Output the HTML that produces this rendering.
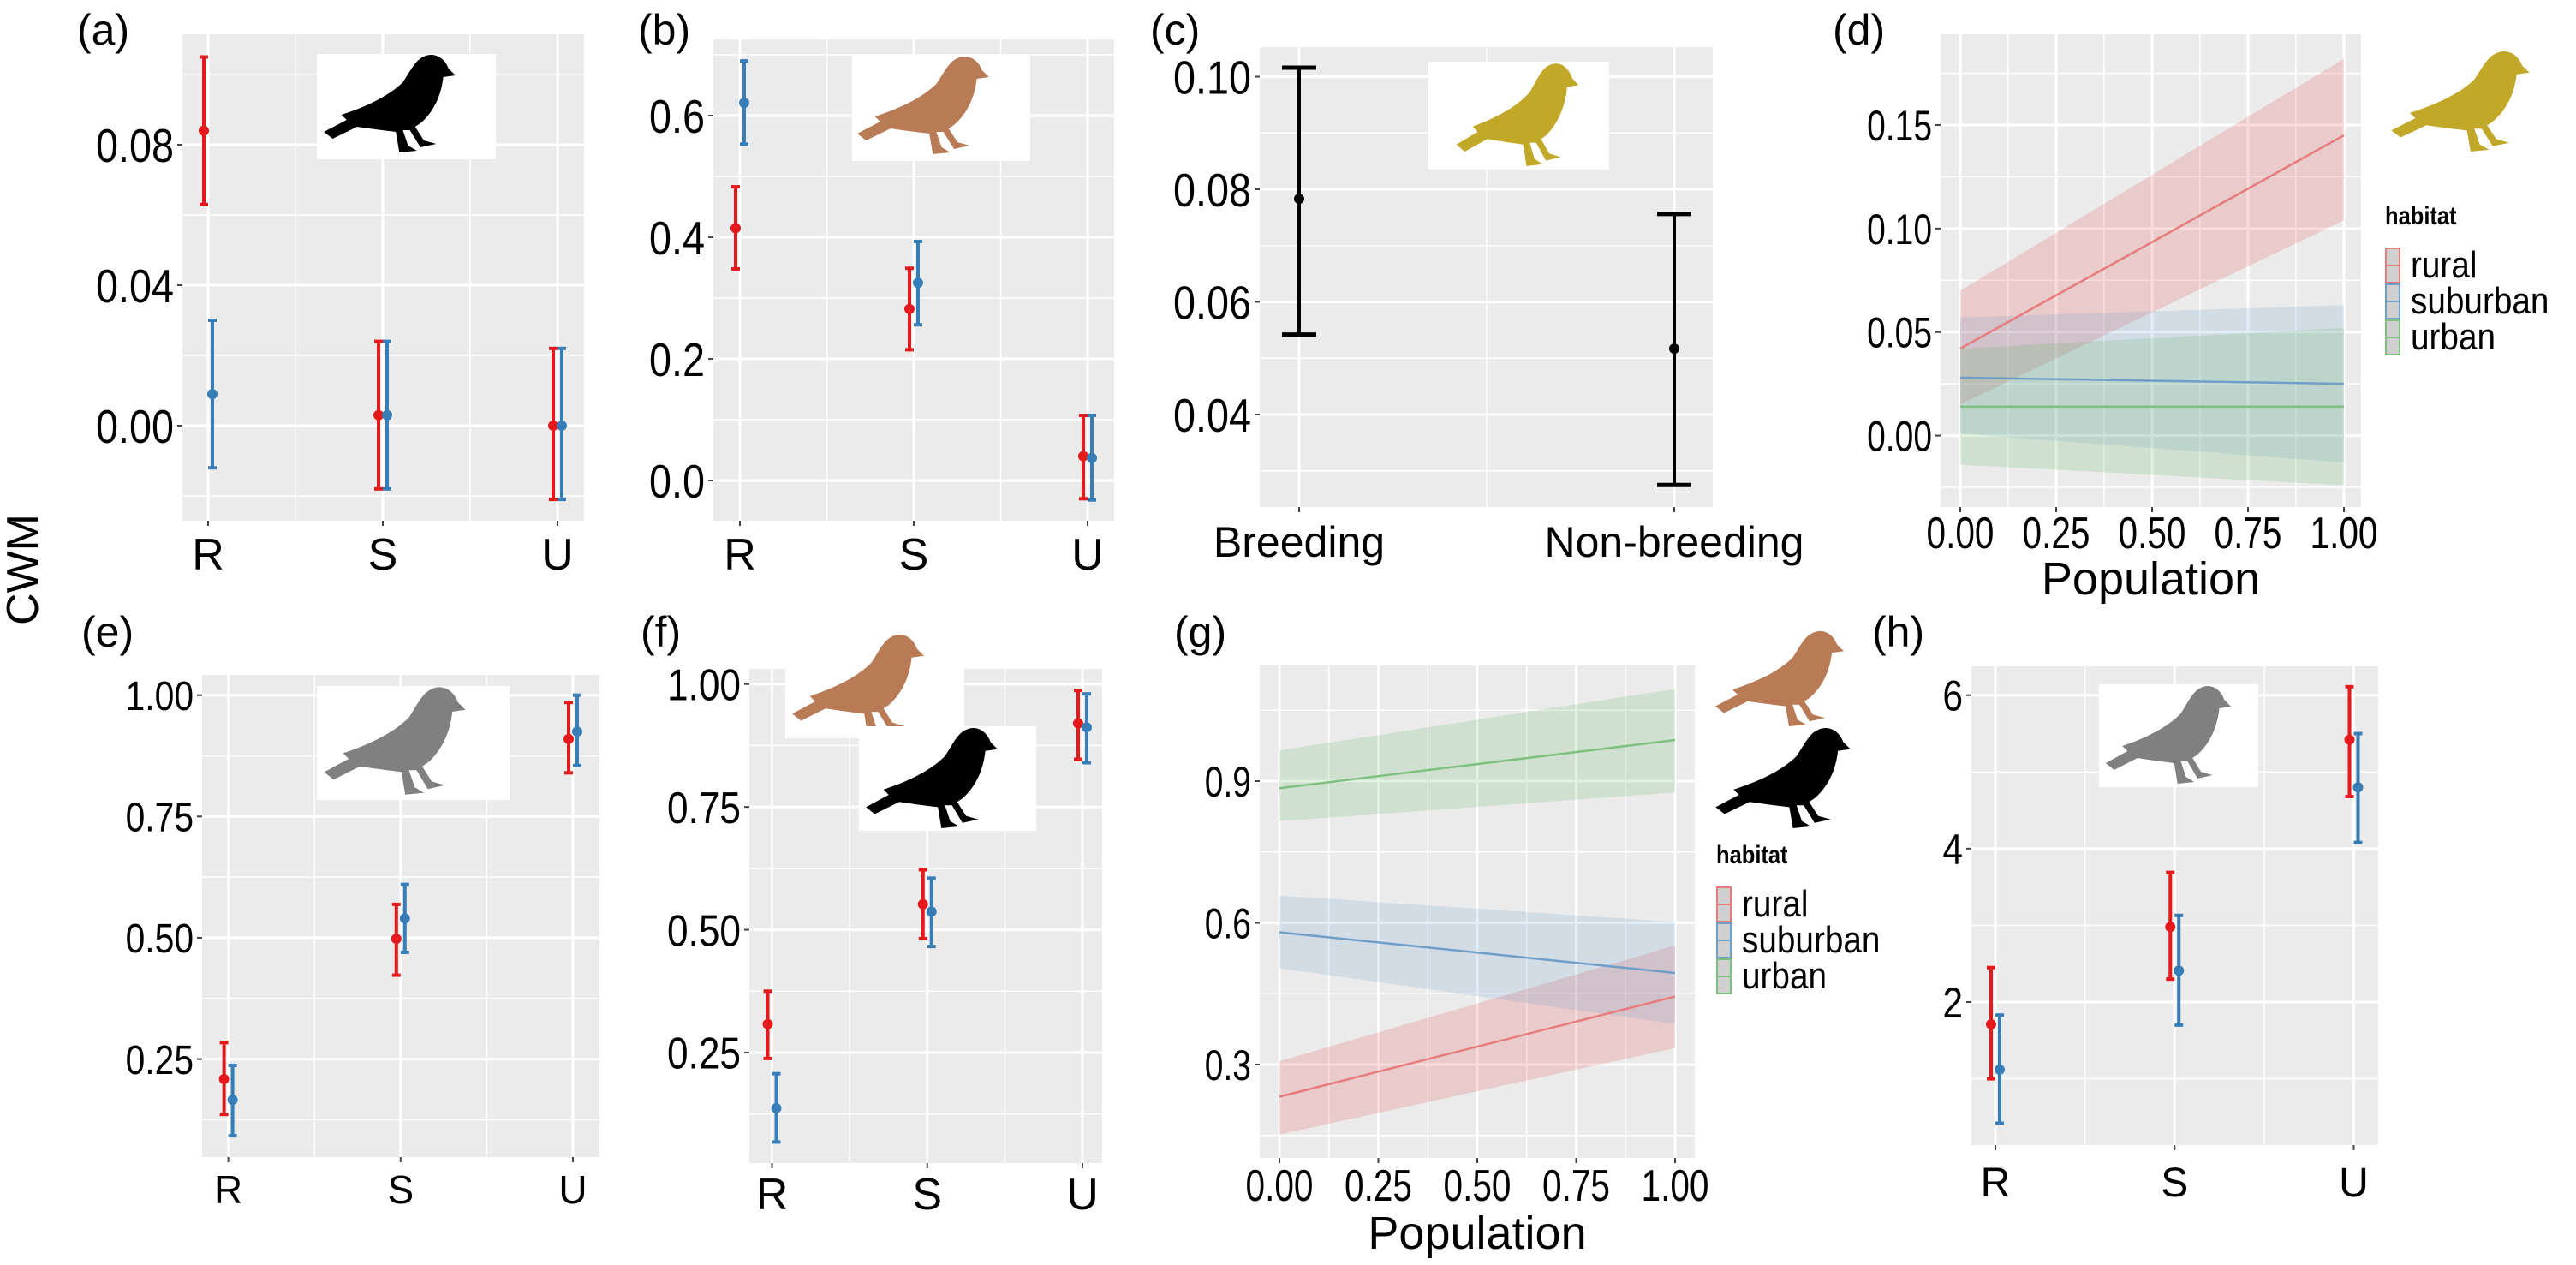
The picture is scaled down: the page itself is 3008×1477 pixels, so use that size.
<!DOCTYPE html>
<html><head><meta charset="utf-8"><style>
html,body{margin:0;padding:0;background:#fff;}
svg{display:block;font-family:"Liberation Sans",sans-serif;}
</style></head><body>
<svg id="fig" width="3008" height="1477" viewBox="0 0 3008 1477" xmlns="http://www.w3.org/2000/svg">
<defs>
<path id="bird" d="M60,3 C66,0 72,4 74,10 L78,14 L71,15 C70,25 66,35 58,42 L55,44 L60,52 L67,54 L58,56 L52,46 L48,46 L51,55 L56,58 L46,59 L44,47 C36,46 28,45 22,44 L8,51 L3,47 L16,40 L13,37 C28,32 40,26 48,18 C52,12 55,5 60,3 Z"/>
</defs>
</svg>
<script>
// ---------- DATA ----------
const catsRSU = ['R','S','U'];
const aTicks = [0.00, 0.04, 0.08];
const aTickLabels = ['0.00','0.04','0.08'];
const aRedMid = [0.084, 0.003, 0.000];
const aRedLo = [0.063, -0.018, -0.021];
const aRedHi = [0.105, 0.024, 0.022];
const aBlueMid = [0.009, 0.003, 0.000];
const aBlueLo = [-0.012, -0.018, -0.021];
const aBlueHi = [0.030, 0.024, 0.022];

const bTicks = [0.0, 0.2, 0.4, 0.6];
const bTickLabels = ['0.0','0.2','0.4','0.6'];
const bRedMid = [0.415, 0.282, 0.040];
const bRedLo = [0.348, 0.215, -0.030];
const bRedHi = [0.483, 0.349, 0.107];
const bBlueMid = [0.621, 0.325, 0.037];
const bBlueLo = [0.553, 0.256, -0.032];
const bBlueHi = [0.690, 0.393, 0.107];

const cCats = ['Breeding','Non-breeding'];
const cTicks = [0.04, 0.06, 0.08, 0.10];
const cTickLabels = ['0.04','0.06','0.08','0.10'];
const cMid = [0.0783, 0.0517];
const cLo = [0.0542, 0.0275];
const cHi = [0.1016, 0.0756];

const habitats = ['rural','suburban','urban'];
const popTicks = [0, 0.25, 0.5, 0.75, 1.0];
const popTickLabels = ['0.00','0.25','0.50','0.75','1.00'];
const dTicks = [0.00, 0.05, 0.10, 0.15];
const dTickLabels = ['0.00','0.05','0.10','0.15'];
const dMidAt0 = [0.042, 0.028, 0.014];
const dMidAt1 = [0.145, 0.025, 0.014];
const dLoAt0 = [0.015, 0.001, -0.014];
const dHiAt0 = [0.070, 0.057, 0.042];
const dLoAt1 = [0.104, -0.013, -0.024];
const dHiAt1 = [0.182, 0.063, 0.052];

const eTicks = [0.25, 0.50, 0.75, 1.00];
const eTickLabels = ['0.25','0.50','0.75','1.00'];
const eRedMid = [0.209, 0.498, 0.910];
const eRedLo = [0.136, 0.423, 0.840];
const eRedHi = [0.284, 0.569, 0.985];
const eBlueMid = [0.166, 0.540, 0.925];
const eBlueLo = [0.092, 0.470, 0.855];
const eBlueHi = [0.237, 0.610, 1.000];

const fTicks = [0.25, 0.50, 0.75, 1.00];
const fTickLabels = ['0.25','0.50','0.75','1.00'];
const fRedMid = [0.308, 0.552, 0.920];
const fRedLo = [0.238, 0.482, 0.847];
const fRedHi = [0.375, 0.622, 0.987];
const fBlueMid = [0.137, 0.537, 0.912];
const fBlueLo = [0.068, 0.466, 0.840];
const fBlueHi = [0.207, 0.605, 0.980];

const gTicks = [0.3, 0.6, 0.9];
const gTickLabels = ['0.3','0.6','0.9'];
const gMidAt0 = [0.232, 0.580, 0.885];
const gMidAt1 = [0.444, 0.494, 0.987];
const gLoAt0 = [0.152, 0.504, 0.815];
const gHiAt0 = [0.307, 0.658, 0.965];
const gLoAt1 = [0.335, 0.386, 0.876];
const gHiAt1 = [0.552, 0.602, 1.095];

const hTicks = [2, 4, 6];
const hTickLabels = ['2','4','6'];
const hRedMid = [1.71, 2.98, 5.42];
const hRedLo = [1.00, 2.30, 4.68];
const hRedHi = [2.45, 3.69, 6.11];
const hBlueMid = [1.12, 2.41, 4.80];
const hBlueLo = [0.42, 1.70, 4.08];
const hBlueHi = [1.83, 3.13, 5.50];

// ---------- DRAWING ----------
const NS = 'http://www.w3.org/2000/svg';
const svg = document.getElementById('fig');
const RED = '#e41a1c', BLUE = '#377eb8';
const RIB = ['rgba(228,60,60,0.18)','rgba(80,140,200,0.16)','rgba(90,180,90,0.18)'];
const LIN = ['#e77b7b','#6f9fc9','#7fbf7f'];
function mk(tag, attrs, parent) {
  const e = document.createElementNS(NS, tag);
  for (const k in attrs) e.setAttribute(k, attrs[k]);
  (parent || svg).appendChild(e);
  return e;
}
function txt(x, y, s, size, anchor, sx, parent, weight) {
  const t = mk('text', {transform: `translate(${x},${y}) scale(${sx||1},1)`, 'font-size': size, 'text-anchor': anchor||'start', fill:'#000'}, parent);
  if (weight) t.setAttribute('font-weight', weight);
  t.textContent = s;
  return t;
}
function linY(v0, p0, v1, p1) { return v => p0 + (v - v0) * (p1 - p0) / (v1 - v0); }

function panelBase(g, x0, x1, y0, y1, ticks, labels, Y, sx, fs) {
  const bg = mk('rect', {x:x0, y:y0, width:x1-x0, height:y1-y0, fill:'#ebebeb'}, g);
  
  
  const step = ticks[1] - ticks[0];
  for (let v = ticks[0] - step/2; v <= ticks[ticks.length-1] + step; v += step) {
    const y = Y(v);
    if (y > y0 && y < y1) mk('line', {x1:x0, x2:x1, y1:y, y2:y, stroke:'#fff', 'stroke-width':1.5}, g);
  }
  ticks.forEach((v, i) => {
    const y = Y(v);
    mk('line', {x1:x0, x2:x1, y1:y, y2:y, stroke:'#fff', 'stroke-width':3}, g);
    mk('line', {x1:x0-6, x2:x0, y1:y, y2:y, stroke:'#444', 'stroke-width':2}, g);
    const t = txt(x0-10, y+fs*0.36, labels[i], fs, 'end', sx, g);
    
    
  });
}

function dotPanel(name, letter, lx, ly, x0, x1, y0, y1, cx0, cx2, ticks, labels, Y, series, labY, sx, fs, catFs) {
  const g = mk('g', {});
  
  
  panelBase(g, x0, x1, y0, y1, ticks, labels, Y, sx, fs);
  const n = catsRSU.length;
  const X = i => cx0 + i * (cx2 - cx0) / (n - 1);
  for (let i = 0; i < n - 1; i++) {
    const xm = (X(i) + X(i+1)) / 2;
    mk('line', {x1:xm, x2:xm, y1:y0, y2:y1, stroke:'#fff', 'stroke-width':1.5}, g);
  }
  catsRSU.forEach((c, i) => {
    mk('line', {x1:X(i), x2:X(i), y1:y0, y2:y1, stroke:'#fff', 'stroke-width':3}, g);
    mk('line', {x1:X(i), x2:X(i), y1:y1, y2:y1+6, stroke:'#444', 'stroke-width':2}, g);
    const t = txt(X(i), labY, c, catFs, 'middle', 1, g);
    
    
  });
  series.forEach(s => {
    s.mid.forEach((m, i) => {
      const x = X(i) + s.dx;
      const eb = mk('g', {}, g);
      
      
      mk('line', {x1:x, x2:x, y1:Y(s.lo[i]), y2:Y(s.hi[i]), stroke:s.color, 'stroke-width':4}, eb);
      mk('line', {x1:x-5, x2:x+5, y1:Y(s.lo[i]), y2:Y(s.lo[i]), stroke:s.color, 'stroke-width':4}, eb);
      mk('line', {x1:x-5, x2:x+5, y1:Y(s.hi[i]), y2:Y(s.hi[i]), stroke:s.color, 'stroke-width':4}, eb);
      mk('circle', {cx:x, cy:Y(m), r:6, fill:s.color}, eb);
    });
  });
  const pl = txt(lx, ly, letter, 50, 'start', 1, svg);
  
  
  return g;
}

function birdBox(name, bx, by, bw, bh, color, tx, ty, scx, scy, box) {
  const g = mk('g', {});
  
  
  if (box) mk('rect', {x:bx, y:by, width:bw, height:bh, fill:'#fff'}, g);
  mk('use', {href:'#bird', transform:`translate(${tx},${ty}) scale(${scx},${scy})`, fill:color}, g);
}

function ribbonPanel(name, letter, lx, ly, x0, x1, y0, y1, px0, px1, ticks, labels, Y, mid0, mid1, lo0, hi0, lo1, hi1, labY, popY, legX, legY, sx, fs) {
  const g = mk('g', {});
  
  
  panelBase(g, x0, x1, y0, y1, ticks, labels, Y, sx, fs);
  const X = v => px0 + v * (px1 - px0);
  for (let i = 0; i < popTicks.length - 1; i++) {
    const xm = X((popTicks[i] + popTicks[i+1]) / 2);
    mk('line', {x1:xm, x2:xm, y1:y0, y2:y1, stroke:'#fff', 'stroke-width':1.5}, g);
  }
  popTicks.forEach((v, i) => {
    mk('line', {x1:X(v), x2:X(v), y1:y0, y2:y1, stroke:'#fff', 'stroke-width':3}, g);
    mk('line', {x1:X(v), x2:X(v), y1:y1, y2:y1+6, stroke:'#444', 'stroke-width':2}, g);
    const t = txt(X(v), labY, popTickLabels[i], 52, 'middle', 0.78, g);
    
    
  });
  habitats.forEach((h, k) => {
    const rb = mk('polygon', {points:`${X(0)},${Y(lo0[k])} ${X(1)},${Y(lo1[k])} ${X(1)},${Y(hi1[k])} ${X(0)},${Y(hi0[k])}`, fill:RIB[k]}, g);
    
    
  });
  habitats.forEach((h, k) => {
    const ln = mk('line', {x1:X(0), y1:Y(mid0[k]), x2:X(1), y2:Y(mid1[k]), stroke:LIN[k], 'stroke-width':2.5}, g);
    
    
  });
  const at = txt((x0+x1)/2, popY, 'Population', 54, 'middle', 1, g);
  
  
  const lg = mk('g', {}, svg);
  
  
  const lt = txt(legX, legY, 'habitat', 30, 'start', 0.85, lg, 'bold');
  
  
  habitats.forEach((h, k) => {
    const ey = legY + 28 + k * 42;
    const le = mk('g', {}, lg);
    
    
    mk('rect', {x:legX+1, y:ey, width:16, height:40, fill:'#d0d0d0', stroke:LIN[k], 'stroke-width':2}, le);
    mk('line', {x1:legX+1, x2:legX+17, y1:ey+20, y2:ey+20, stroke:LIN[k], 'stroke-width':2}, le);
    txt(legX+30, ey+34, h, 44, 'start', 0.88, le);
  });
  const pl = txt(lx, ly, letter, 50, 'start', 1, svg);
  
  
}

dotPanel('panel-a', '(a)', 90, 52, 213, 682, 40, 608, 243, 651, aTicks, aTickLabels,
  linY(0.00, 497, 0.08, 169),
  [{key:'red', color:RED, mid:aRedMid, lo:aRedLo, hi:aRedHi, dx:-5},
   {key:'blue', color:BLUE, mid:aBlueMid, lo:aBlueLo, hi:aBlueHi, dx:5}], 665, 0.85, 55, 52);
birdBox('bird-icon-a', 370, 63, 209, 123, '#000', 372, 60, 2.05, 2.0, true);

dotPanel('panel-b', '(b)', 745, 52, 833, 1301, 46, 608, 864, 1270, bTicks, bTickLabels,
  linY(0.0, 561, 0.6, 135),
  [{key:'red', color:RED, mid:bRedMid, lo:bRedLo, hi:bRedHi, dx:-5},
   {key:'blue', color:BLUE, mid:bBlueMid, lo:bBlueLo, hi:bBlueHi, dx:5}], 665, 0.85, 55, 52);
birdBox('bird-icon-b', 995, 64, 208, 124, '#b97a56', 995, 62, 2.05, 2.0, true);

(function(){
  const g = mk('g', {});
  
  
  const Y = linY(0.04, 484, 0.10, 89.5);
  panelBase(g, 1471, 2000, 55, 592, cTicks, cTickLabels, Y, 0.85, 55);
  const X = i => 1517 + i * (1955 - 1517);
  mk('line', {x1:(X(0)+X(1))/2, x2:(X(0)+X(1))/2, y1:55, y2:592, stroke:'#fff', 'stroke-width':1.5}, g);
  cCats.forEach((c, i) => {
    mk('line', {x1:X(i), x2:X(i), y1:55, y2:592, stroke:'#fff', 'stroke-width':3}, g);
    mk('line', {x1:X(i), x2:X(i), y1:592, y2:598, stroke:'#444', 'stroke-width':2}, g);
    const t = txt(X(i), 650, c, 50, 'middle', 1.0, g);
    
    
    const eb = mk('g', {}, g);
    
    
    mk('line', {x1:X(i), x2:X(i), y1:Y(cLo[i]), y2:Y(cHi[i]), stroke:'#000', 'stroke-width':4}, eb);
    mk('line', {x1:X(i)-20, x2:X(i)+20, y1:Y(cLo[i]), y2:Y(cLo[i]), stroke:'#000', 'stroke-width':5}, eb);
    mk('line', {x1:X(i)-20, x2:X(i)+20, y1:Y(cHi[i]), y2:Y(cHi[i]), stroke:'#000', 'stroke-width':5}, eb);
    mk('circle', {cx:X(i), cy:Y(cMid[i]), r:6, fill:'#000'}, eb);
  });
  const pl = txt(1343, 52, '(c)', 50, 'start', 1, svg);
  
  
})();
birdBox('bird-icon-c', 1668, 72, 211, 126, '#c2a828', 1695, 70, 1.9, 2.1, true);

ribbonPanel('panel-d', '(d)', 2140, 52, 2266, 2757, 40, 592, 2289, 2737, dTicks, dTickLabels,
  linY(0.00, 508.6, 0.15, 146), dMidAt0, dMidAt1, dLoAt0, dHiAt0, dLoAt1, dHiAt1, 640, 694, 2785, 262, 0.78, 50);
birdBox('bird-icon-d', 2791, 57, 165, 120, '#c2a828', 2786, 56, 2.15, 2.05, false);

dotPanel('panel-e', '(e)', 95, 755, 236, 700, 788, 1351, 266.6, 669, eTicks, eTickLabels,
  linY(0.25, 1236.6, 1.00, 811.7),
  [{key:'red', color:RED, mid:eRedMid, lo:eRedLo, hi:eRedHi, dx:-5},
   {key:'blue', color:BLUE, mid:eBlueMid, lo:eBlueLo, hi:eBlueHi, dx:5}], 1405, 0.85, 48, 46);
birdBox('bird-icon-e', 370, 801, 225, 133, '#808080', 372, 798, 2.2, 2.2, true);

dotPanel('panel-f', '(f)', 748, 755, 875, 1287, 781, 1358, 901.5, 1264, fTicks, fTickLabels,
  linY(0.25, 1229, 1.00, 798.7),
  [{key:'red', color:RED, mid:fRedMid, lo:fRedLo, hi:fRedHi, dx:-5},
   {key:'blue', color:BLUE, mid:fBlueMid, lo:fBlueLo, hi:fBlueHi, dx:5}], 1412, 0.85, 52, 52);
birdBox('bird-icon-f-brown', 917, 739, 209, 123, '#b97a56', 919, 737, 2.05, 2.05, true);
birdBox('bird-icon-f-black', 1003, 848, 207, 122, '#000', 1005, 846, 2.05, 2.05, true);

ribbonPanel('panel-g', '(g)', 1371, 755, 1471, 1979, 777, 1352, 1494, 1956, gTicks, gTickLabels,
  linY(0.3, 1243, 0.9, 912), gMidAt0, gMidAt1, gLoAt0, gHiAt0, gLoAt1, gHiAt1, 1402, 1458, 2004, 1008, 0.78, 50);
birdBox('bird-icon-g-brown', 1995, 735, 201, 113, '#b97a56', 1997, 733, 2.0, 1.95, true);
birdBox('bird-icon-g-black', 1995, 848, 253, 123, '#000', 1997, 846, 2.1, 2.05, true);

dotPanel('panel-h', '(h)', 2186, 755, 2302, 2777, 778, 1337, 2330, 2748.5, hTicks, hTickLabels,
  linY(2, 1170, 6, 811.7),
  [{key:'red', color:RED, mid:hRedMid, lo:hRedLo, hi:hRedHi, dx:-5},
   {key:'blue', color:BLUE, mid:hBlueMid, lo:hBlueLo, hi:hBlueHi, dx:5}], 1397, 0.85, 50, 48);
birdBox('bird-icon-h', 2451, 799, 186, 120, '#808080', 2453, 797, 1.95, 2.0, true);

const yt = mk('text', {transform:'translate(44,665) rotate(-90)', 'font-size':52, 'text-anchor':'middle', fill:'#000'});


yt.textContent = 'CWM';
</script>
</body></html>
